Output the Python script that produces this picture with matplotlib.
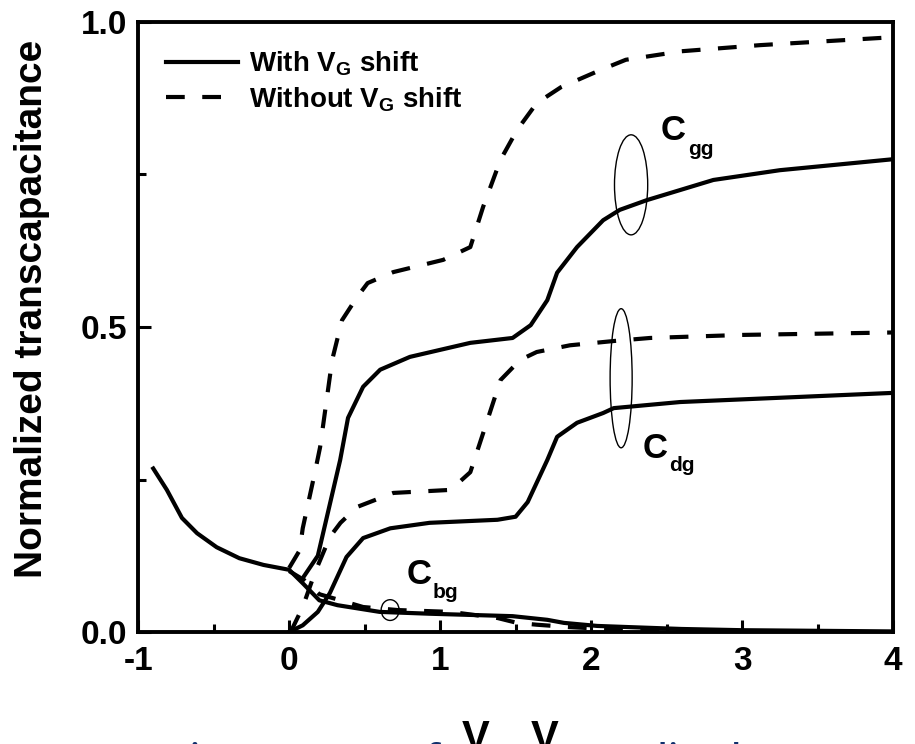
import matplotlib
matplotlib.use('Agg')
import matplotlib.pyplot as plt
from matplotlib.patches import Ellipse
from matplotlib.ticker import MultipleLocator

plt.rcParams['font.family'] = ['Liberation Sans', 'DejaVu Sans']
plt.rcParams['font.weight'] = 'bold'
plt.rcParams['mathtext.fontset'] = 'custom'
plt.rcParams['mathtext.rm'] = 'Liberation Sans:bold'
plt.rcParams['mathtext.it'] = 'Liberation Sans:bold'
plt.rcParams['mathtext.bf'] = 'Liberation Sans:bold'
plt.rcParams['mathtext.sf'] = 'Liberation Sans:bold'

# Cgg
x_cgg_with = [0.1, 0.19, 0.338, 0.39, 0.49, 0.603, 0.80, 1.2, 1.48, 1.6, 1.71, 1.775,
              1.907, 2.08, 2.19, 2.37, 2.81, 3.25, 4.0]
y_cgg_with = [0.092, 0.125, 0.282, 0.351, 0.402, 0.43, 0.451, 0.474, 0.482, 0.503, 0.544, 0.589,
              0.631, 0.675, 0.692, 0.708, 0.741, 0.757, 0.775]
x_cgg_wo = [0.0, 0.07, 0.09, 0.17, 0.205, 0.285, 0.35, 0.45, 0.52, 0.69, 1.02, 1.2, 1.285,
            1.4, 1.51, 1.64, 1.8, 2.06, 2.23, 2.6, 3.12, 4.0]
y_cgg_wo = [0.105, 0.134, 0.17, 0.261, 0.303, 0.446, 0.511, 0.549, 0.572, 0.59, 0.61, 0.631, 0.697,
            0.774, 0.823, 0.867, 0.893, 0.921, 0.938, 0.952, 0.962, 0.975]

# Cdg
x_cdg_with = [0.0, 0.09, 0.19, 0.27, 0.38, 0.49, 0.67, 0.93, 1.38, 1.5, 1.58, 1.71, 1.775,
              1.907, 2.08, 2.15, 2.59, 3.25, 4.0]
y_cdg_with = [0.0, 0.011, 0.033, 0.064, 0.123, 0.154, 0.17, 0.179, 0.184, 0.189, 0.213, 0.282, 0.32,
              0.343, 0.359, 0.367, 0.377, 0.384, 0.392]
x_cdg_wo = [0.01, 0.09, 0.17, 0.27, 0.34, 0.45, 0.69, 1.07, 1.2, 1.285, 1.4, 1.53, 1.64,
            1.86, 2.15, 2.39, 3.0, 4.0]
y_cdg_wo = [0.0, 0.041, 0.097, 0.156, 0.179, 0.205, 0.228, 0.233, 0.262, 0.326, 0.413, 0.446, 0.459,
            0.47, 0.477, 0.482, 0.487, 0.491]

# Cbg
x_cbg_with = [-0.9, -0.81, -0.71, -0.61, -0.48, -0.33, -0.17, 0.0, 0.09, 0.2, 0.32, 0.6, 0.93,
              1.48, 1.71, 1.82, 2.04, 2.26, 2.6, 3.0, 3.5, 4.0]
y_cbg_with = [0.268, 0.233, 0.187, 0.162, 0.139, 0.121, 0.11, 0.102, 0.08, 0.052, 0.044, 0.033, 0.03,
              0.026, 0.02, 0.015, 0.01, 0.008, 0.005, 0.003, 0.002, 0.001]
x_cbg_wo = [0.0, 0.1, 0.2, 0.27, 0.49, 0.72, 1.07, 1.38, 1.51, 1.64, 1.86, 2.26, 2.6]
y_cbg_wo = [0.1, 0.085, 0.062, 0.057, 0.041, 0.036, 0.033, 0.023, 0.015, 0.012, 0.008, 0.003, 0.0]

x_ticks = [-1, 0, 1, 2, 3, 4]
y_ticks = [0.0, 0.5, 1.0]
y_ticklabels = ['0.0', '0.5', '1.0']

lw = 3.0
dash = (4.5, 4.2)

fig = plt.figure(figsize=(9.15, 7.44), dpi=100)
ax = fig.add_axes([0.151, 0.1505, 0.825, 0.82])

ax.plot(x_cgg_with, y_cgg_with, color='k', lw=lw, label=r'With V$_{\mathrm{G}}$ shift')
ax.plot(x_cgg_wo, y_cgg_wo, color='k', lw=lw, dashes=dash, label=r'Without V$_{\mathrm{G}}$ shift')
ax.plot(x_cdg_with, y_cdg_with, color='k', lw=lw)
ax.plot(x_cdg_wo, y_cdg_wo, color='k', lw=lw, dashes=dash)
ax.plot(x_cbg_with, y_cbg_with, color='k', lw=lw)
ax.plot(x_cbg_wo, y_cbg_wo, color='k', lw=lw, dashes=dash)

# ellipses marking the groups
ax.add_patch(Ellipse((2.265, 0.733), 0.22, 0.164, fill=False, lw=1.0, ec='k'))
ax.add_patch(Ellipse((2.199, 0.416), 0.146, 0.228, fill=False, lw=1.0, ec='k'))
ax.add_patch(Ellipse((0.669, 0.036), 0.119, 0.034, fill=False, lw=1.0, ec='k'))

ax.text(2.46, 0.807, 'C', fontsize=25, fontweight='bold')
ax.text(2.64, 0.782, 'gg', fontsize=15, fontweight='bold')
ax.text(2.34, 0.285, 'C', fontsize=25, fontweight='bold')
ax.text(2.52, 0.264, 'dg', fontsize=15, fontweight='bold')
ax.text(0.775, 0.079, 'C', fontsize=25, fontweight='bold')
ax.text(0.95, 0.056, 'bg', fontsize=15, fontweight='bold')

ax.set_xlim(-1, 4)
ax.set_ylim(0, 1.0)
ax.set_xticks(x_ticks)
ax.set_xticklabels([str(v) for v in x_ticks], fontsize=24, fontweight='bold')
ax.xaxis.set_minor_locator(MultipleLocator(0.5))
ax.set_yticks(y_ticks)
ax.set_yticklabels(y_ticklabels, fontsize=24, fontweight='bold')
ax.yaxis.set_minor_locator(MultipleLocator(0.25))
ax.tick_params(which='major', direction='in', length=9, width=2.2, pad=10)
ax.tick_params(which='minor', direction='in', length=6, width=2.2)
ax.tick_params(axis='y', pad=8)
for s in ax.spines.values():
    s.set_linewidth(2.8)

ax.set_ylabel('Normalized transcapacitance', fontsize=28, fontweight='bold')
ax.yaxis.set_label_coords(-0.117, 0.53)

leg = ax.legend(loc='upper left', bbox_to_anchor=(0.0, 1.0), frameon=False, fontsize=20,
                handlelength=2.6, handletextpad=0.4, labelspacing=0.25, borderaxespad=0.6)

# x label, partly cut by the bottom edge
fig.text(0.505, -0.008, 'V', fontsize=30, fontweight='bold')
fig.text(0.536, -0.03, "CB',", fontsize=18, fontweight='bold')
fig.text(0.58, -0.008, 'V', fontsize=30, fontweight='bold')

# slide caption cut off at the bottom
fig.text(0.05, -0.036, 'Comparison curves of          normalized transcapacitance',
         fontsize=27, fontweight='semibold', color='#102f6c', family=['Open Sans', 'DejaVu Sans'])

fig.savefig('out.png', dpi=100)
